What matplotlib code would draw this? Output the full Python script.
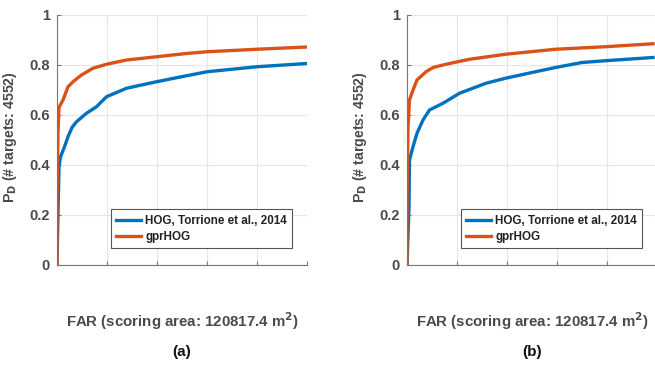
import matplotlib
matplotlib.use("Agg")
import matplotlib.pyplot as plt

plt.rcParams["font.family"] = ["Liberation Sans", "DejaVu Sans"]
plt.rcParams["font.weight"] = "bold"

# ROC curves (FAR in grid units 0..5, PD 0..1)
far_hog_a = [0.0, 0.02, 0.04, 0.07, 0.15, 0.22, 0.30, 0.39, 0.59, 0.79,
             0.99, 1.39, 1.99, 2.49, 3.0, 4.0, 5.0]
pd_hog_a = [0.0, 0.207, 0.393, 0.433, 0.473, 0.513, 0.55, 0.573, 0.607,
            0.633, 0.673, 0.707, 0.733, 0.753, 0.773, 0.793, 0.806]
far_gpr_a = [0.0, 0.0, 0.02, 0.04, 0.12, 0.22, 0.32, 0.49, 0.72, 0.99,
             1.39, 1.99, 2.59, 3.0, 4.0, 5.0]
pd_gpr_a = [0.0, 0.26, 0.53, 0.63, 0.66, 0.713, 0.733, 0.76, 0.787, 0.803,
            0.82, 0.833, 0.846, 0.853, 0.863, 0.872]

far_hog_b = [0.0, 0.04, 0.05, 0.12, 0.2, 0.32, 0.45, 0.72, 1.05, 1.58,
             1.97, 2.57, 2.97, 3.5, 3.96, 4.92]
pd_hog_b = [0.0, 0.233, 0.42, 0.473, 0.527, 0.58, 0.62, 0.647, 0.687,
            0.727, 0.747, 0.773, 0.79, 0.81, 0.817, 0.83]
far_gpr_b = [0.0, 0.0, 0.02, 0.05, 0.12, 0.2, 0.38, 0.52, 0.78, 1.25,
             1.97, 2.97, 3.96, 4.92]
pd_gpr_b = [0.0, 0.26, 0.55, 0.66, 0.70, 0.74, 0.773, 0.79, 0.803, 0.823,
            0.843, 0.863, 0.873, 0.885]

labels = ["HOG, Torrione et al., 2014", "gprHOG"]
panels = ["(a)", "(b)"]

BLUE = "#0072BD"
ORANGE = "#D95319"
GRAY = "#4a4a4a"

W, H = 655, 365
fig = plt.figure(figsize=(W / 100, H / 100), dpi=100, facecolor="white")

data = [(far_hog_a, pd_hog_a, far_gpr_a, pd_gpr_a),
        (far_hog_b, pd_hog_b, far_gpr_b, pd_gpr_b)]
lefts = [57, 407]

for left, (xh, yh, xg, yg), tag in zip(lefts, data, panels):
    ax = fig.add_axes([left / W, 100 / H, 250 / W, 250 / H])
    ax.plot(xh, yh, color=BLUE, lw=2.4, label=labels[0], zorder=3)
    ax.plot(xg, yg, color=ORANGE, lw=2.4, label=labels[1], zorder=4)
    ax.set_xlim(0, 5)
    ax.set_ylim(0, 1)
    ax.set_xticks([0, 1, 2, 3, 4, 5])
    ax.set_xticklabels([])
    ax.set_yticks([0, 0.2, 0.4, 0.6, 0.8, 1])
    ax.set_yticklabels(["0", "0.2", "0.4", "0.6", "0.8", "1"])
    ax.grid(True, color="#e6e6e6", lw=0.8)
    ax.set_axisbelow(True)
    for side in ("top", "right"):
        ax.spines[side].set_visible(False)
    for side in ("left", "bottom"):
        ax.spines[side].set_color("#777777")
        ax.spines[side].set_linewidth(0.8)
    ax.tick_params(direction="in", length=3, color="#777777",
                   labelsize=10.5, labelcolor=GRAY, pad=5)
    for t in ax.get_yticklabels():
        t.set_fontweight("bold")
    ax.set_ylabel("P$_\\mathbf{D}$ (# targets: 4552)", fontsize=10.2,
                  color=GRAY, fontweight="bold")
    ax.yaxis.set_label_coords(-38 / 250, 0.51)
    ax.set_xlabel("FAR (scoring area: 120817.4 m$^\\mathbf{2}$)",
                  fontsize=10.8, color=GRAY, fontweight="bold")
    ax.xaxis.set_label_coords(0.5, -45 / 250)
    leg = ax.legend(loc="lower right", fontsize=8.4, fancybox=False,
                    framealpha=1, edgecolor="#555555", borderpad=0.45,
                    handlelength=2.1, handletextpad=0.4, labelspacing=0.35,
                    bbox_to_anchor=(0.965, 0.045))
    leg.get_frame().set_linewidth(0.8)
    for t in leg.get_texts():
        t.set_fontweight("bold")
        t.set_color("#222222")
    fig.text((left + 125) / W, 1 - 352 / H, tag, ha="center", va="center",
             fontsize=11, fontweight="bold", color="#111111")

fig.savefig("out.png", dpi=100, facecolor="white")
